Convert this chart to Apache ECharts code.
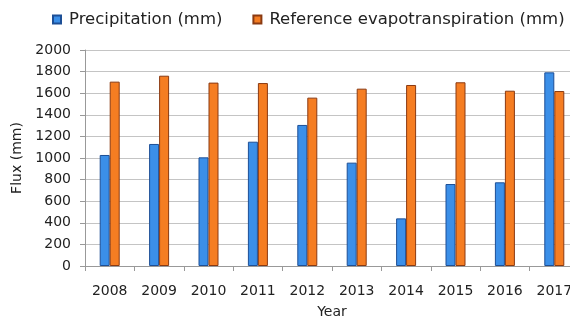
<!DOCTYPE html>
<html>
<head>
<meta charset="utf-8">
<script src="https://cdn.jsdelivr.net/npm/echarts@6/dist/echarts.min.js"></script>
<style>
  html, body { margin: 0; padding: 0; background: #fff; }
  #chart { width: 570px; height: 320px; }
</style>
</head>
<body>
<div id="chart"></div>
<script>
// data
var years = ['2008', '2009', '2010', '2011', '2012', '2013', '2014', '2015', '2016', '2017'];
var precipitation = [1028, 1130, 1006, 1151, 1306, 957, 441, 759, 775, 1793];
var evapotranspiration = [1707, 1762, 1698, 1694, 1559, 1642, 1676, 1701, 1623, 1620];
var yTicks = [0, 200, 400, 600, 800, 1000, 1200, 1400, 1600, 1800, 2000];

var chart = echarts.init(document.getElementById('chart'));
var font = '"DejaVu Sans", sans-serif';

chart.setOption({
  animation: false,
  textStyle: { fontFamily: font },
  legend: {
    left: 52,
    top: 11,
    width: 560,
    padding: 0,
    icon: 'rect',
    itemWidth: 8,
    itemHeight: 8,
    itemGap: 30,
    textStyle: { fontSize: 16.5, color: '#222', fontFamily: font, padding: [0, 0, 0, 3] }
  },
  grid: {
    left: 85,
    top: 50,
    width: 494,
    height: 216,
    outerBoundsMode: 'none'
  },
  xAxis: {
    type: 'category',
    data: years,
    name: 'Year',
    nameLocation: 'middle',
    nameGap: 39,
    nameTextStyle: { fontSize: 14, color: '#222' },
    axisLine: { lineStyle: { color: '#999' } },
    axisTick: { show: true, length: 5, lineStyle: { color: '#999' } },
    axisLabel: { fontSize: 14, color: '#222', margin: 18 }
  },
  yAxis: {
    type: 'value',
    min: 0,
    max: yTicks[yTicks.length - 1],
    interval: 200,
    name: 'Flux (mm)',
    nameLocation: 'middle',
    nameGap: 60,
    nameTextStyle: { fontSize: 14, color: '#222' },
    axisLine: { show: true, lineStyle: { color: '#999' } },
    axisTick: { show: true, length: 5, lineStyle: { color: '#999' } },
    axisLabel: { fontSize: 14, color: '#222', margin: 14, formatter: function (v) { return String(v); } },
    splitLine: { lineStyle: { color: '#c4c4c4', width: 1 } }
  },
  series: [
    {
      name: 'Precipitation (mm)',
      type: 'bar',
      data: precipitation,
      barWidth: 10,
      barGap: '0%',
      itemStyle: { color: '#3b8fe8', borderColor: '#1d4f96', borderWidth: 1 }
    },
    {
      name: 'Reference evapotranspiration (mm)',
      type: 'bar',
      data: evapotranspiration,
      barWidth: 10,
      barGap: '0%',
      itemStyle: { color: '#f57d22', borderColor: '#8a3a12', borderWidth: 1 }
    }
  ]
});
</script>
</body>
</html>
